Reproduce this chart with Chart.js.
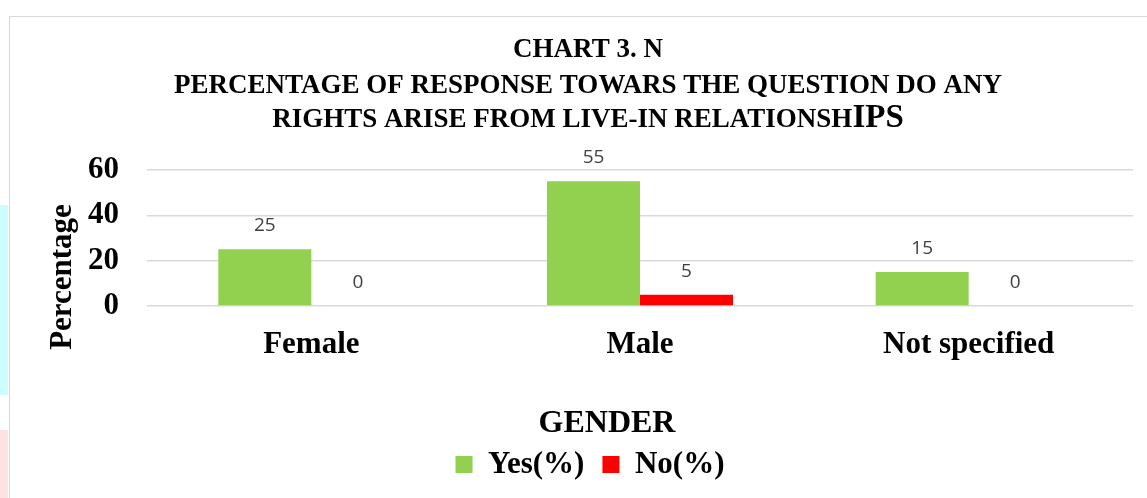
<!DOCTYPE html>
<html>
<head>
<meta charset="utf-8">
<title>Chart 3. N</title>
<script src="https://cdn.jsdelivr.net/npm/chart.js@4"></script>
<style>
  html, body { margin: 0; padding: 0; background: #fff; overflow: hidden; }
  #wrap { position: relative; width: 1147px; height: 498px; }
  .frame { position: absolute; left: 9px; top: 16px; width: 1200px; height: 600px; border: 1.5px solid #d9d9d9; }
  .tint-a { position: absolute; left: 0; top: 205px; width: 8px; height: 190px; background: #ccfdff; }
  .tint-b { position: absolute; left: 0; top: 430px; width: 8px; height: 68px; background: #ffe3e3; }
  canvas { position: absolute; left: 0; top: 0; }
</style>
</head>
<body>
<div id="wrap">
  <div class="tint-a"></div>
  <div class="tint-b"></div>
  <div class="frame"></div>
  <canvas id="genderChart" width="1147" height="498"></canvas>
</div>
<script>
// values
const genders = ['Female', 'Male', 'Not specified'];
const yesPercent = [25, 55, 15];
const noPercent = [0, 5, 0];
const yAxisMax = 60;
const yAxisStep = 20;

const titleLines = [
    'CHART 3. N',
    'PERCENTAGE OF RESPONSE TOWARS THE QUESTION DO ANY',
    'RIGHTS ARISE FROM LIVE-IN RELATIONSH'
];
const titleTail = 'IPS';

const SERIF = '"Liberation Serif", "Times New Roman", serif';

// value labels above each bar
const barLabels = {
    id: 'barLabels',
    afterDatasetsDraw(chart) {
        const ctx = chart.ctx;
        ctx.save();
        ctx.font = '19px "Open Sans", sans-serif';
        ctx.fillStyle = '#404040';
        ctx.textAlign = 'center';
        ctx.textBaseline = 'alphabetic';
        chart.data.datasets.forEach((ds, i) => {
            chart.getDatasetMeta(i).data.forEach((bar, j) => {
                ctx.fillText(String(ds.data[j]), bar.x, bar.y - 18);
            });
        });
        ctx.restore();
    }
};

// chart title and axis titles, placed like the Excel original
const chartTexts = {
    id: 'chartTexts',
    afterDraw(chart) {
        const ctx = chart.ctx;
        const cx = 588;
        ctx.save();
        ctx.fillStyle = '#000';
        ctx.textBaseline = 'alphabetic';
        ctx.textAlign = 'center';

        ctx.font = 'bold 27px ' + SERIF;
        ctx.fillText(titleLines[0], cx, 57);
        ctx.fillText(titleLines[1], cx, 93);

        // last line ends with a larger "IPS"
        const big = 'bold 33px ' + SERIF;
        const small = 'bold 27px ' + SERIF;
        ctx.font = small;
        const w1 = ctx.measureText(titleLines[2]).width;
        ctx.font = big;
        const w2 = ctx.measureText(titleTail).width;
        let x = cx - (w1 + w2) / 2;
        ctx.textAlign = 'left';
        ctx.font = small;
        ctx.fillText(titleLines[2], x, 127);
        ctx.font = big;
        ctx.fillText(titleTail, x + w1, 127);

        // x axis title
        ctx.textAlign = 'center';
        ctx.font = 'bold 32px ' + SERIF;
        ctx.fillText('GENDER', 607, 432);

        // y axis title
        ctx.translate(63, 277);
        ctx.rotate(-Math.PI / 2);
        ctx.textBaseline = 'middle';
        ctx.font = 'bold 31px ' + SERIF;
        ctx.fillText('Percentage', 0, 0);
        ctx.restore();
    }
};

new Chart(document.getElementById('genderChart'), {
    type: 'bar',
    data: {
        labels: genders,
        datasets: [
            {
                label: 'Yes(%)',
                data: yesPercent,
                backgroundColor: '#92D050',
                borderWidth: 0,
                categoryPercentage: 0.566,
                barPercentage: 1.0
            },
            {
                label: 'No(%)',
                data: noPercent,
                backgroundColor: '#FF0000',
                borderWidth: 0,
                categoryPercentage: 0.566,
                barPercentage: 1.0
            }
        ]
    },
    options: {
        responsive: false,
        animation: false,
        layout: {
            padding: { top: 170, left: 47, right: 14, bottom: 8 }
        },
        plugins: {
            title: { display: false },
            tooltip: { enabled: false },
            legend: {
                position: 'bottom',
                labels: {
                    color: '#000',
                    font: { family: SERIF, size: 31, weight: 'bold' },
                    boxWidth: 17,
                    boxHeight: 17,
                    padding: 18
                }
            }
        },
        scales: {
            x: {
                grid: { display: false, drawTicks: false },
                border: { display: false },
                ticks: {
                    color: '#000',
                    padding: 20,
                    font: { family: SERIF, size: 31, weight: 'bold' }
                },
                afterFit(scale) { scale.height = 125; }
            },
            y: {
                min: 0,
                max: yAxisMax,
                grid: { color: '#d9d9d9', lineWidth: 1.5, drawTicks: false },
                border: { display: false },
                ticks: {
                    stepSize: yAxisStep,
                    color: '#000',
                    padding: 28,
                    font: { family: SERIF, size: 31, weight: 'bold' }
                },
                afterFit(scale) { scale.width = 100; }
            }
        }
    },
    plugins: [barLabels, chartTexts]
});
</script>
</body>
</html>
